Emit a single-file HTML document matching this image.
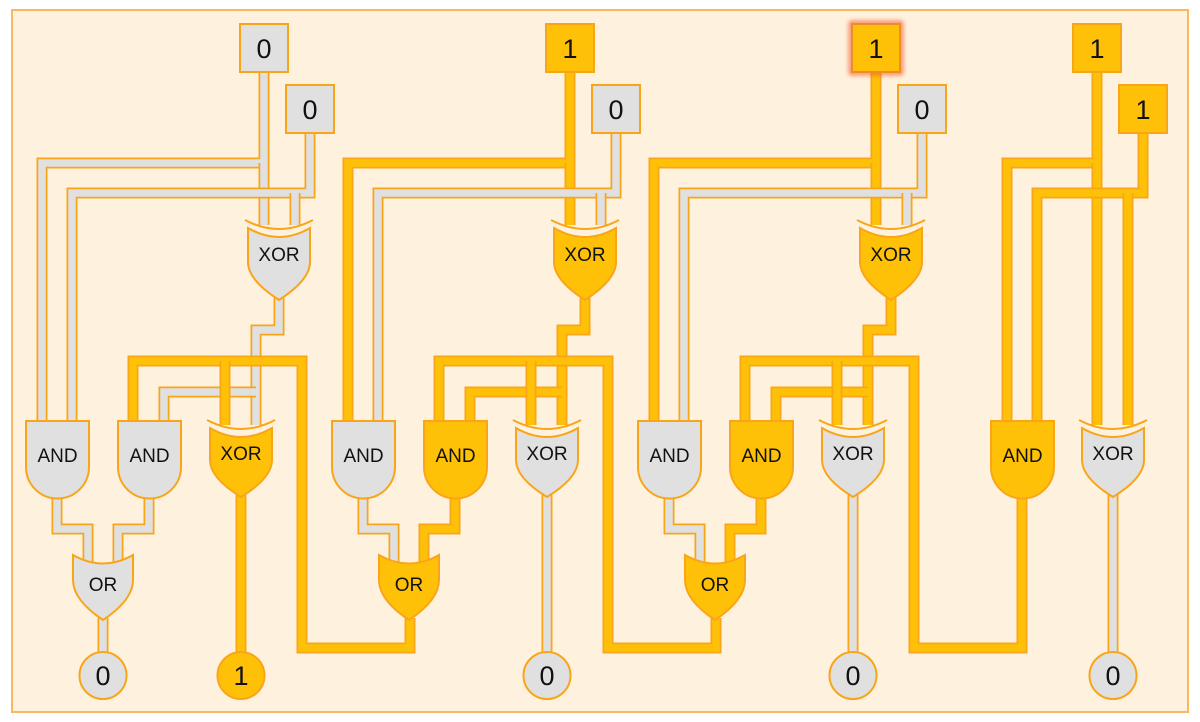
<!DOCTYPE html>
<html><head><meta charset="utf-8"><style>
html,body{margin:0;padding:0;background:#fff}
svg{display:block}
.o{fill:none;stroke:#f9a51a;stroke-width:11}
.g{fill:none;stroke:#e0e0e0;stroke-width:7.5}
.y{fill:none;stroke:#ffc107;stroke-width:7.5}
.gf{fill:#e0e0e0;stroke:#f9a51a;stroke-width:2}
.yf{fill:#ffc107;stroke:#f9a51a;stroke-width:2}
.arc{fill:none;stroke:#f9a51a;stroke-width:2}
text{font-family:"Liberation Sans","DejaVu Sans",sans-serif;fill:#111;text-anchor:middle}
.l{font-size:19px}
.n{font-size:27px}
</style></head><body>
<svg width="1200" height="722" viewBox="0 0 1200 722" xmlns="http://www.w3.org/2000/svg">
<defs><filter id="glow" x="-30%" y="-30%" width="160%" height="160%"><feGaussianBlur stdDeviation="2.5"/></filter></defs>
<rect x="12" y="10" width="1176" height="702" fill="#fef2df" stroke="#f8b860" stroke-width="2"/>

<!-- GROUP 1 -->
<g>
<path class="o" d="M264,72 V163 H42 V423"/><path class="g" d="M264,72 V163 H42 V423"/>
<path class="o" d="M264,163 V225"/><path class="g" d="M264,163 V225"/>
<path class="o" d="M310,133 V193 H72 V423"/><path class="g" d="M310,133 V193 H72 V423"/>
<path class="o" d="M295,193 V225"/><path class="g" d="M295,193 V225"/>
<path class="o" d="M279,298 V330 H256 V425"/><path class="g" d="M279,298 V330 H256 V425"/>
<path class="o" d="M256,392 H164 V423"/><path class="g" d="M256,392 H164 V423"/>
<path class="o" d="M410,618 V648 H302 V361 H133 V423"/><path class="y" d="M410,618 V648 H302 V361 H133 V423"/>
<path class="o" d="M225,361 V425"/><path class="y" d="M225,361 V425"/>
<path class="o" d="M57,496 V529 H88 V562"/><path class="g" d="M57,496 V529 H88 V562"/>
<path class="o" d="M149,496 V529 H118 V562"/><path class="g" d="M149,496 V529 H118 V562"/>
<path class="o" d="M103,618 V653"/><path class="g" d="M103,618 V653"/>
<path class="o" d="M241,495 V653"/><path class="y" d="M241,495 V653"/>
<rect class="gf" x="240" y="24" width="48" height="48"/><text class="n" x="264" y="58">0</text>
<rect class="gf" x="286" y="85" width="48" height="48"/><text class="n" x="310" y="119">0</text>
<path class="arc" d="M245,220 Q279,238 313,220"/>
<path class="gf" d="M248,228 Q279,246 310,228 V262 Q310,280 279,300 Q248,280 248,262 Z"/><text class="l" x="279" y="261">XOR</text>
<path class="gf" d="M26,421 H89 V467 A31.5,31.5 0 0 1 26,467 Z"/><text class="l" x="57.5" y="462">AND</text>
<path class="gf" d="M118,421 H181 V467 A31.5,31.5 0 0 1 118,467 Z"/><text class="l" x="149.5" y="462">AND</text>
<path class="arc" d="M207,420 Q241,438 275,420"/>
<path class="yf" d="M210,428 Q241,446 272,428 V460 Q272,478 241,497 Q210,478 210,460 Z"/><text class="l" x="241" y="460">XOR</text>
<path class="gf" d="M73,555 Q103,572 133,555 V580 Q133,600 103,620 Q73,600 73,580 Z"/><text class="l" x="103" y="591">OR</text>
<circle class="gf" cx="103" cy="675.5" r="23.5"/><text class="n" x="103" y="685">0</text>
<circle class="yf" cx="241" cy="675.5" r="23.5"/><text class="n" x="241" y="685">1</text>
</g>

<!-- GROUP 2 -->
<g transform="translate(306,0)">
<path class="o" d="M264,72 V163 H42 V423"/><path class="y" d="M264,72 V163 H42 V423"/>
<path class="o" d="M264,163 V225"/><path class="y" d="M264,163 V225"/>
<path class="o" d="M310,133 V193 H72 V423"/><path class="g" d="M310,133 V193 H72 V423"/>
<path class="o" d="M295,193 V225"/><path class="g" d="M295,193 V225"/>
<path class="o" d="M279,298 V330 H256 V425"/><path class="y" d="M279,298 V330 H256 V425"/>
<path class="o" d="M256,392 H164 V423"/><path class="y" d="M256,392 H164 V423"/>
<path class="o" d="M410,618 V648 H302 V361 H133 V423"/><path class="y" d="M410,618 V648 H302 V361 H133 V423"/>
<path class="o" d="M225,361 V425"/><path class="y" d="M225,361 V425"/>
<path class="o" d="M57,496 V529 H88 V562"/><path class="g" d="M57,496 V529 H88 V562"/>
<path class="o" d="M149,496 V529 H118 V562"/><path class="y" d="M149,496 V529 H118 V562"/>
<path class="o" d="M241,495 V653"/><path class="g" d="M241,495 V653"/>
<rect class="yf" x="240" y="24" width="48" height="48"/><text class="n" x="264" y="58">1</text>
<rect class="gf" x="286" y="85" width="48" height="48"/><text class="n" x="310" y="119">0</text>
<path class="arc" d="M245,220 Q279,238 313,220"/>
<path class="yf" d="M248,228 Q279,246 310,228 V262 Q310,280 279,300 Q248,280 248,262 Z"/><text class="l" x="279" y="261">XOR</text>
<path class="gf" d="M26,421 H89 V467 A31.5,31.5 0 0 1 26,467 Z"/><text class="l" x="57.5" y="462">AND</text>
<path class="yf" d="M118,421 H181 V467 A31.5,31.5 0 0 1 118,467 Z"/><text class="l" x="149.5" y="462">AND</text>
<path class="arc" d="M207,420 Q241,438 275,420"/>
<path class="gf" d="M210,428 Q241,446 272,428 V460 Q272,478 241,497 Q210,478 210,460 Z"/><text class="l" x="241" y="460">XOR</text>
<path class="yf" d="M73,555 Q103,572 133,555 V580 Q133,600 103,620 Q73,600 73,580 Z"/><text class="l" x="103" y="591">OR</text>
<circle class="gf" cx="241" cy="675.5" r="23.5"/><text class="n" x="241" y="685">0</text>
</g>

<!-- GROUP 3 -->
<g transform="translate(612,0)">
<path class="o" d="M264,72 V163 H42 V423"/><path class="y" d="M264,72 V163 H42 V423"/>
<path class="o" d="M264,163 V225"/><path class="y" d="M264,163 V225"/>
<path class="o" d="M310,133 V193 H72 V423"/><path class="g" d="M310,133 V193 H72 V423"/>
<path class="o" d="M295,193 V225"/><path class="g" d="M295,193 V225"/>
<path class="o" d="M279,298 V330 H256 V425"/><path class="y" d="M279,298 V330 H256 V425"/>
<path class="o" d="M256,392 H164 V423"/><path class="y" d="M256,392 H164 V423"/>
<path class="o" d="M410,496 V648 H302 V361 H133 V423"/><path class="y" d="M410,496 V648 H302 V361 H133 V423"/>
<path class="o" d="M225,361 V425"/><path class="y" d="M225,361 V425"/>
<path class="o" d="M57,496 V529 H88 V562"/><path class="g" d="M57,496 V529 H88 V562"/>
<path class="o" d="M149,496 V529 H118 V562"/><path class="y" d="M149,496 V529 H118 V562"/>
<path class="o" d="M241,495 V653"/><path class="g" d="M241,495 V653"/>
<rect x="239" y="23" width="50" height="50" fill="none" stroke="#f05a1e" stroke-opacity="0.8" stroke-width="4" filter="url(#glow)"/>
<rect class="yf" x="240" y="24" width="48" height="48" style="stroke:#f08a2a"/><text class="n" x="264" y="58">1</text>
<rect class="gf" x="286" y="85" width="48" height="48"/><text class="n" x="310" y="119">0</text>
<path class="arc" d="M245,220 Q279,238 313,220"/>
<path class="yf" d="M248,228 Q279,246 310,228 V262 Q310,280 279,300 Q248,280 248,262 Z"/><text class="l" x="279" y="261">XOR</text>
<path class="gf" d="M26,421 H89 V467 A31.5,31.5 0 0 1 26,467 Z"/><text class="l" x="57.5" y="462">AND</text>
<path class="yf" d="M118,421 H181 V467 A31.5,31.5 0 0 1 118,467 Z"/><text class="l" x="149.5" y="462">AND</text>
<path class="arc" d="M207,420 Q241,438 275,420"/>
<path class="gf" d="M210,428 Q241,446 272,428 V460 Q272,478 241,497 Q210,478 210,460 Z"/><text class="l" x="241" y="460">XOR</text>
<path class="yf" d="M73,555 Q103,572 133,555 V580 Q133,600 103,620 Q73,600 73,580 Z"/><text class="l" x="103" y="591">OR</text>
<circle class="gf" cx="241" cy="675.5" r="23.5"/><text class="n" x="241" y="685">0</text>
</g>

<!-- GROUP 4 -->
<g>
<path class="o" d="M1097,72 V163 H1007 V423"/><path class="y" d="M1097,72 V163 H1007 V423"/>
<path class="o" d="M1097,163 V425"/><path class="y" d="M1097,163 V425"/>
<path class="o" d="M1143,133 V193 H1037 V423"/><path class="y" d="M1143,133 V193 H1037 V423"/>
<path class="o" d="M1128,193 V425"/><path class="y" d="M1128,193 V425"/>
<path class="o" d="M1113,495 V653"/><path class="g" d="M1113,495 V653"/>
<rect class="yf" x="1073" y="24" width="48" height="48"/><text class="n" x="1097" y="58">1</text>
<rect class="yf" x="1119" y="85" width="48" height="48"/><text class="n" x="1143" y="119">1</text>
<path class="yf" d="M991,421 H1054 V467 A31.5,31.5 0 0 1 991,467 Z"/><text class="l" x="1022.5" y="462">AND</text>
<path class="arc" d="M1079,420 Q1113,438 1147,420"/>
<path class="gf" d="M1082,428 Q1113,446 1144,428 V460 Q1144,478 1113,497 Q1082,478 1082,460 Z"/><text class="l" x="1113" y="460">XOR</text>
<circle class="gf" cx="1113" cy="675.5" r="23.5"/><text class="n" x="1113" y="685">0</text>
</g>
</svg>
</body></html>
